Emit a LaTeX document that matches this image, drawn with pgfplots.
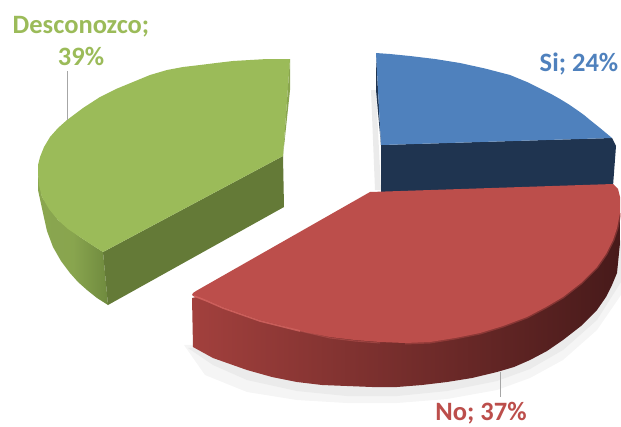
\documentclass[border=0pt]{standalone}
\usepackage{pgfplots}
\pgfplotsset{compat=1.18}
\usepackage{fontspec}
\setmainfont{Carlito}
\definecolor{gtop}{HTML}{9BBB59}
\definecolor{gdark}{HTML}{647A37}
\definecolor{gsl}{HTML}{8AA64F}
\definecolor{gsr}{HTML}{6F8A3E}
\definecolor{btop}{HTML}{4F81BD}
\definecolor{bdark}{HTML}{1F3450}
\definecolor{rtop}{HTML}{BC4E4B}
\definecolor{rsl}{HTML}{A2403D}
\definecolor{rsr}{HTML}{471A1A}
\definecolor{rhi}{HTML}{DC6A66}
\tikzset{lab/.style={font=\fontsize{26.5}{26.5}\selectfont\bfseries, anchor=base, inner sep=0pt}}
\begin{document}
\begin{tikzpicture}
\useasboundingbox (0,0) rectangle (621pt,426pt);
\begin{axis}[
  scale only axis, width=621pt, height=426pt,
  xmin=0, xmax=621, ymin=0, ymax=426, y dir=reverse,
  hide axis, clip=true, axis on top=false,
  every axis plot/.append style={line join=round}
]
% soft shadows
\addplot[fill=black!4, draw=none] coordinates {(184,345)(205,375)(247,392)(297,400)(347,403)(397,403)(447,399)(497,390)(530,378)(563,360)(597,330)(621,295)(621,240)(560,300)(400,340)} -- cycle;
\addplot[fill=black!8, draw=none] coordinates {(188,348)(213,365)(247,380)(297,391)(347,396)(397,396)(447,391)(497,381)(530,369)(563,350)(597,320)(621,282)(621,240)(560,300)(400,340)} -- cycle;
\addplot[fill=black!8, draw=none] coordinates {(371,90)(376,90)(381,190)(375,190)} -- cycle;
% green
\addplot[draw=none, shade, left color=gsl, right color=gsr, middle color=gtop!88!black] coordinates {(38,173)(38,190)(43,213)(47,231)(53,247)(61,261)(70,273)(78,282)(87,290)(97,298)(108,305)(103,252)(80,237)(58,220)(42,197)} -- cycle;
\addplot[fill=gdark, draw=none] coordinates {(103,252)(283,156)(284,207)(108,305)} -- cycle;
\addplot[fill=gtop, draw=none] coordinates {(290,59)(267,59)(250,60)(233,61)(216,63)(200,65)(183,67)(167,70)(150,75)(133,82)(116,89)(100,97)(83,108)(67,120)(58,128)(50,137)(44,147)(40,157)(38,165)(38,173)(39,185)(42,197)(49,209)(58,220)(68,229)(80,237)(92,245)(103,252)(283,156)} -- cycle;
\addplot[fill=gsl, draw=none] coordinates {(290,90)(290,59)(283,156)} -- cycle;
% blue
\addplot[fill=bdark, draw=none] coordinates {(381,145)(612,138)(616,146)(613,186)(381,194)} -- cycle;
\addplot[fill=bdark, draw=none] coordinates {(376,54)(376,90)(381,145)} -- cycle;
\addplot[fill=btop, draw=none] coordinates {(376,53)(390,54)(410,56)(435,59)(460,63)(485,68.5)(510,75)(527,82)(543,90)(552,94.5)(560,99)(569,104.5)(577,110)(584,115)(590,120)(595,124)(600,128)(606,133)(612,138)(381,145)} -- cycle;
% red
\addplot[draw=none, shade, left color=rsl, right color=rsr] coordinates {(192,298)(193,347)(213,358)(247,370)(272,377)(297,382)(322,385)(347,386)(372,387)(397,387)(422,385)(447,382)(472,378)(497,372)(514,367)(530,360)(547,351)(563,340)(581,326)(597,310)(606,297)(612,285)(617,273)(620,243)(620,200)} -- cycle;
\addplot[rtop, line width=3pt, opacity=.45] coordinates {(620,213)(617,228)(613,240)(606,254)(597,267)(581,283)(563,297)(546,307)(527,317)(503,326)(480,333)(455,338)(430,342)(405,343)};
\addplot[fill=rtop, draw=none] coordinates {(370,192)(613,184)(618,189)(620,197)(620,213)(617,228)(613,240)(606,254)(597,267)(581,283)(563,297)(546,307)(527,317)(503,326)(480,333)(455,338)(430,342)(405,343)(380,342)(355,340)(330,337)(305,332)(280,325)(260,320)(240,313)(223,307)(207,300)(195,297)(192,295)(193,293)(196,291)} -- cycle;
\addplot[rhi, line width=1.6pt, opacity=.75] coordinates {(194,296)(207,301)(223,308)(240,314)(260,321)(280,326)(300,331)};
\addplot[rhi, line width=1pt, opacity=.35] coordinates {(300,331)(330,338)(355,341)(380,343)};
% leader lines
\addplot[black!35, line width=1pt] coordinates {(67.5,71)(67.5,120)};
\addplot[black!35, line width=1pt] coordinates {(500.5,372)(500.5,397)};
% labels
\node[lab, text=gtop] at (axis cs:81,33) {Desconozco;};
\node[lab, text=gtop] at (axis cs:81,65) {39\%};
\node[lab, text=btop] at (axis cs:579,71) {Si; 24\%};
\node[lab, text=rtop] at (axis cs:481,420) {No; 37\%};
\end{axis}
\end{tikzpicture}
\end{document}
